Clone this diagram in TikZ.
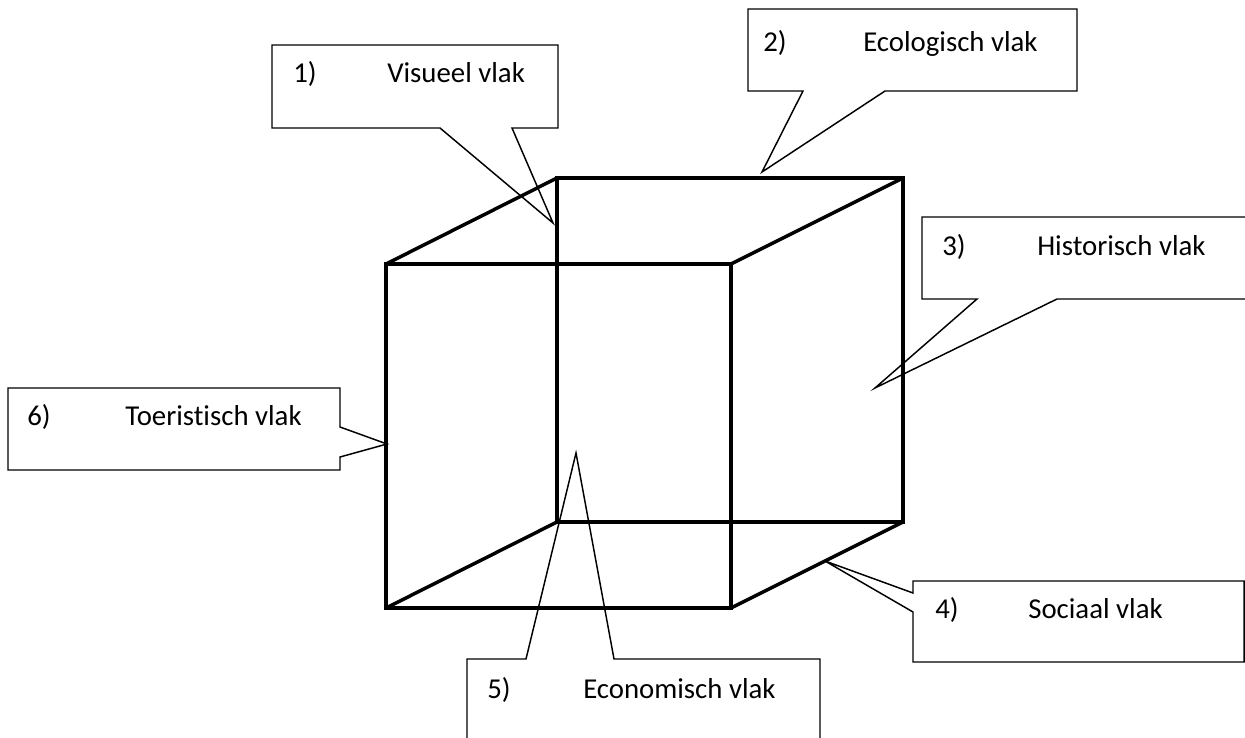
\documentclass[tikz,border=0pt]{standalone}
\usepackage{fontspec}
\setmainfont{Carlito}[Ligatures=NoCommon]
\begin{document}
\begin{tikzpicture}[x=0.75pt,y=-0.75pt,
  rib/.style={line width=2.6pt,line join=miter},
  bubble/.style={line width=1.1pt,line join=miter},
  lbl/.style={anchor=base west,inner sep=0pt,font=\fontsize{21.6}{25}\selectfont}]
\useasboundingbox (0,0) rectangle (1245,738);
\clip (0,0) rectangle (1245,738);
% callouts
\draw[bubble] (272,45) -- (558,45) -- (558,128) -- (512,128) -- (553,223) -- (440,128) -- (272,128) -- cycle;
\draw[bubble] (748,9) -- (1077,9) -- (1077,91) -- (885,91) -- (762,172) -- (803,91) -- (748,91) -- cycle;
\draw[bubble] (922,217) -- (1260,217) -- (1260,299) -- (1057,299) -- (875,388) -- (977,299) -- (922,299) -- cycle;
\draw[bubble] (913,581) -- (1244,581) -- (1244,662) -- (913,662) -- (913,612) -- (825,561) -- (913,593) -- cycle;
\draw[bubble] (467,659) -- (526,659) -- (576,453) -- (614,659) -- (820,659) -- (820,760) -- (467,760) -- cycle;
\draw[bubble] (8,388) -- (340,388) -- (340,427) -- (387,444) -- (340,457) -- (340,470) -- (8,470) -- cycle;
\node[lbl] (n1) at (293,83) {1)};
\node[lbl] (t1) at (387,83) {Visueel vlak};
\node[lbl] (n2) at (763,52) {2)};
\node[lbl] (t2) at (863,52) {Ecologisch vlak};
\node[lbl] (n3) at (942,255) {3)};
\node[lbl] (t3) at (1037,255) {Historisch vlak};
\node[lbl] (n4) at (935,618) {4)};
\node[lbl] (t4) at (1028,618) {Sociaal vlak};
\node[lbl] (n5) at (487,698) {5)};
\node[lbl] (t5) at (583,698) {Economisch vlak};
\node[lbl] (n6) at (27,425) {6)};
\node[lbl] (t6) at (125,425) {Toeristisch vlak};
% cube
\coordinate (ftl) at (386,264);
\coordinate (ftr) at (731,264);
\coordinate (fbr) at (731,608);
\coordinate (fbl) at (386,608);
\coordinate (btl) at (557,178);
\coordinate (btr) at (903,178);
\coordinate (bbr) at (903,522);
\coordinate (bbl) at (557,522);
\draw[rib] (ftl) -- (ftr) -- (fbr) -- (fbl) -- cycle;
\draw[rib] (btl) -- (btr) -- (bbr) -- (bbl) -- cycle;
\draw[rib] (ftl) -- (btl);
\draw[rib] (ftr) -- (btr);
\draw[rib] (fbr) -- (bbr);
\draw[rib] (fbl) -- (bbl);
\end{tikzpicture}
\end{document}
